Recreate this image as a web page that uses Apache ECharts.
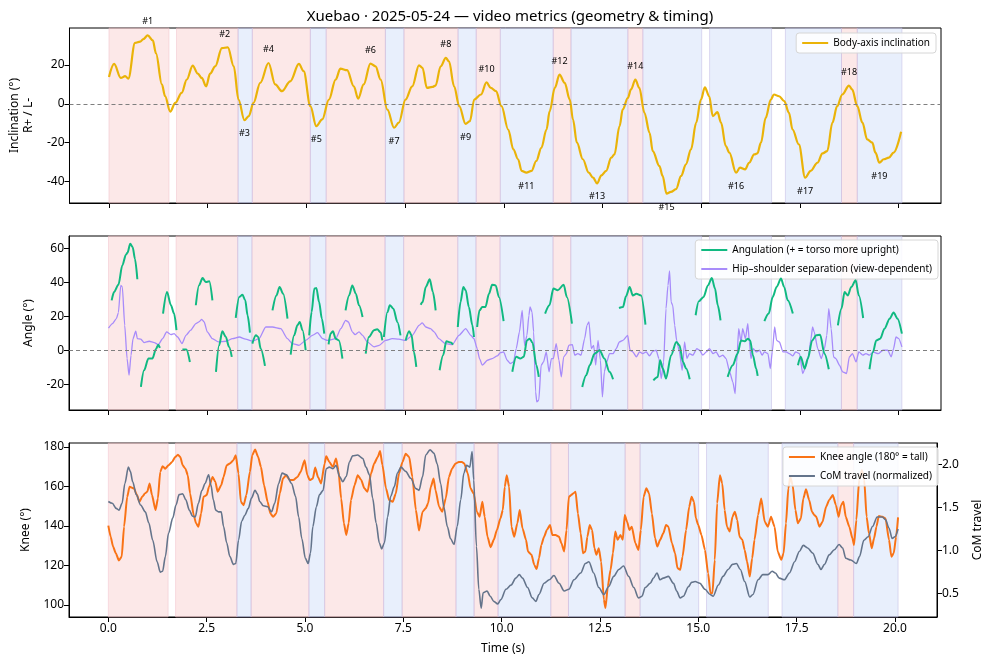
<!DOCTYPE html>
<html>
<head>
<meta charset="utf-8">
<script src="https://cdn.jsdelivr.net/npm/echarts@6/dist/echarts.min.js"></script>
<style>
  html, body { margin: 0; padding: 0; background: #fff; }
  #chart { width: 993px; height: 664px; }
</style>
</head>
<body>
<div id="chart"></div>
<script>
// ---- data ----
const xTicks = [0, 2.5, 5, 7.5, 10, 12.5, 15, 17.5, 20];
const inclTicks = [-40, -20, 0, 20];
const angleTicks = [-20, 0, 20, 40, 60];
const kneeTicks = [100, 120, 140, 160, 180];
const comTicks = [0.5, 1.0, 1.5, 2.0];

// turn phases (s)
const pinkSpans = [[0, 1.52], [1.71, 3.27], [3.63, 5.10], [5.50, 7.00], [7.47, 8.84], [9.30, 9.91], [11.25, 11.70], [13.14, 13.52], [18.55, 18.95]];
const blueSpans = [[3.27, 3.63], [5.10, 5.50], [7.00, 7.47], [8.84, 9.30], [9.91, 11.25], [11.70, 13.14], [13.52, 15.01], [15.21, 16.78], [17.13, 18.55], [18.95, 20.08]];

// body-axis inclination [t, deg]
const incl = [
  [0, 13.8], [0.13, 20.5], [0.30, 13.3], [0.41, 14.2], [0.49, 13], [0.66, 31.3], [0.79, 32], [0.87, 33.3], [0.98, 35.2],
  [1.11, 32.6], [1.19, 26], [1.34, 10], [1.42, 4], [1.55, -4], [1.68, 0.5], [1.84, 5.6], [1.97, 12.5], [2.12, 19.7],
  [2.25, 15.5], [2.35, 13.3], [2.46, 9], [2.56, 15.5], [2.69, 19.3], [2.86, 28.7], [3.01, 29], [3.16, 19.3], [3.28, 2.2],
  [3.43, -8.4], [3.54, -6.3], [3.66, 0.5], [3.83, 10.8], [4.04, 21], [4.21, 10], [4.38, 6.5], [4.59, 11.6], [4.81, 20.5],
  [4.93, 16.8], [5.10, -1.2], [5.25, -11.5], [5.40, -8], [5.57, 2.2], [5.74, 12.5], [5.86, 18.1], [6.03, 17.3], [6.20, 9],
  [6.31, 2.7], [6.45, 10], [6.62, 20.7], [6.75, 19.3], [6.88, 12.5], [7.05, -3], [7.22, -12.3], [7.34, -9.7], [7.51, 2.2],
  [7.68, 9], [7.85, 19.8], [7.94, 18.5], [8.05, 8.2], [8.19, 8.7], [8.27, 9.4], [8.40, 19.3], [8.53, 23.6], [8.61, 21.9],
  [8.74, 9], [8.87, -1.2], [9.03, -10.3], [9.14, -8.9], [9.25, 2.2], [9.42, 4.8], [9.56, 11], [9.67, 8.2], [9.80, 6.5],
  [9.94, -1.2], [10.11, -13.2], [10.24, -23.4], [10.36, -28.5], [10.45, -34.5], [10.57, -35.4], [10.70, -34.5],
  [10.82, -29.4], [10.95, -22.6], [11.08, -13.2], [11.16, -3.8], [11.29, 8.2], [11.41, 15], [11.54, 10.8], [11.67, 2.2],
  [11.75, -8], [11.85, -20], [12.0, -28.5], [12.15, -35.4], [12.26, -38], [12.36, -40.9], [12.47, -36.8], [12.59, -34.5],
  [12.72, -27.7], [12.80, -26], [12.93, -11.5], [13.01, -2.9], [13.14, 3.1], [13.22, 7.4], [13.33, 12.5], [13.43, 8.2],
  [13.56, -4.6], [13.69, -14.9], [13.77, -24.3], [13.94, -32], [14.02, -37.1], [14.12, -46.2], [14.23, -45.3],
  [14.36, -43.9], [14.49, -37.1], [14.61, -31.1], [14.74, -23.4], [14.87, -9.7], [14.99, 2.2], [15.09, 8.5], [15.20, 3.9],
  [15.29, -6.3], [15.41, -4.3], [15.50, -9.7], [15.62, -21.7], [15.71, -25.1], [15.88, -35.4], [15.98, -32.8],
  [16.11, -33.7], [16.21, -30.3], [16.34, -26], [16.42, -25.5], [16.51, -20], [16.63, -7.2], [16.76, 2.2], [16.84, 4.8],
  [16.97, 3.9], [17.10, 1.4], [17.22, -4.6], [17.31, -13.2], [17.47, -20.9], [17.63, -38], [17.77, -34.5], [17.94, -30.3],
  [18.07, -25.5], [18.19, -24.3], [18.32, -9.7], [18.44, -1.2], [18.57, 4.8], [18.74, 9.4], [18.82, 7.4], [18.95, -1.2],
  [19.08, -9.7], [19.20, -18.3], [19.33, -20], [19.41, -25.1], [19.51, -30.3], [19.62, -28.5], [19.75, -27.7],
  [19.87, -25.1], [20.06, -14.4]
];

// turn apex markers
const peakNames = ['#1', '#2', '#3', '#4', '#5', '#6', '#7', '#8', '#9', '#10', '#11', '#12', '#13', '#14', '#15', '#16', '#17', '#18', '#19'];
const peakT = [0.98, 2.93, 3.43, 4.04, 5.25, 6.62, 7.22, 8.53, 9.03, 9.56, 10.57, 11.41, 12.36, 13.33, 14.12, 15.88, 17.63, 18.74, 19.51];
const peakV = [35.2, 29, -8.4, 21, -11.5, 20.7, -12.3, 23.6, -10.3, 11, -35.4, 15, -40.9, 12.5, -46.2, -35.4, -38, 9.4, -30.3];

// angulation, shown only where tracked (segments)
const angSegs = [
  [[0.08, 29.6], [0.14, 34.5], [0.25, 38.8], [0.35, 50.2], [0.44, 56.5], [0.48, 57.6], [0.55, 63], [0.61, 61], [0.67, 54], [0.73, 42]],
  [[0.82, -21.4], [0.90, -11.6], [1.01, -4.7], [1.11, -4.7], [1.20, 0.8], [1.26, 3.5], [1.30, 1.6]],
  [[1.38, 21.8], [1.48, 34.5], [1.58, 26.7], [1.66, 21.8], [1.72, 12]],
  [[1.87, 0.6], [1.97, 0.6], [2.06, -6.7]],
  [[2.21, 26.7], [2.29, 38.4], [2.38, 42.7], [2.46, 40.4], [2.55, 40.8], [2.63, 29.6]],
  [[2.72, -12.5], [2.80, 3.1], [2.88, 11.4], [2.97, 8], [3.05, 2.2], [3.12, -3.7]],
  [[3.22, 19.2], [3.31, 31.6], [3.39, 32.9], [3.46, 29.6], [3.52, 20.8], [3.58, 10.6]],
  [[3.64, 4.1], [3.73, 9], [3.79, 8], [3.85, 1.2], [3.96, -9]],
  [[4.15, 23.7], [4.25, 32.5], [4.33, 37.5], [4.42, 33.5], [4.53, 18.8]],
  [[4.61, -2.4], [4.70, 9], [4.78, 14.9], [4.84, 16.9], [4.91, 12], [4.99, 0.2]],
  [[5.08, 9], [5.14, 22.7], [5.21, 36.5], [5.26, 36.9], [5.33, 28.6], [5.40, 18.8], [5.46, 10]],
  [[5.57, 3.7], [5.62, 10], [5.68, 11.4], [5.75, 7], [5.83, 6], [5.92, -4.7]],
  [[6.00, 23.7], [6.09, 32.5], [6.17, 38.4], [6.26, 33.5], [6.34, 26.7], [6.43, 19.8]],
  [[6.51, -1.8], [6.59, 8], [6.72, 12], [6.80, 12.5], [6.89, 10.6], [6.93, 6]],
  [[6.97, 8], [7.06, 22.7], [7.12, 26.7], [7.21, 24.7], [7.31, 16.9], [7.39, 9]],
  [[7.52, 6], [7.61, 11.4], [7.67, 9], [7.73, -0.8], [7.79, -9.6]],
  [[7.90, 27], [7.95, 28.6], [8.03, 37.5], [8.13, 42], [8.21, 34.5], [8.28, 23.7]],
  [[8.38, -11.6], [8.47, -2.7], [8.55, 5.5], [8.66, 4.7], [8.72, 3.5]],
  [[8.84, 13.9], [8.91, 28.6], [8.98, 37.5], [9.04, 35.5], [9.12, 25.7], [9.21, 14.9], [9.25, 8]],
  [[9.33, 13.9], [9.39, 23.7], [9.46, 25.7], [9.54, 25.7], [9.63, 33.5], [9.71, 38.8], [9.80, 38.4], [9.88, 31.6], [10.0, 17.3]],
  [[10.22, -12.5], [10.32, -3.7], [10.42, -4.7], [10.51, -3.7], [10.59, 6], [10.66, 7], [10.73, 4.7], [10.83, -8.6], [10.89, -15.5]],
  [[11.05, 21.8], [11.16, 26.7], [11.26, 36.5], [11.37, 35.5], [11.52, 38.8], [11.60, 31.6], [11.73, 15.9]],
  [[11.99, -21.4], [12.09, -14.5], [12.18, -8.6], [12.30, -1.8], [12.43, 0.2], [12.55, -4.7], [12.68, -12.5], [12.77, -16.9]],
  [[12.92, 25.1], [13.02, 25.7], [13.10, 32.2], [13.19, 37.5], [13.27, 32.5], [13.36, 33.5], [13.48, 32.5], [13.59, 15.3]],
  [[13.79, -17.5], [13.90, -15.5], [13.96, -5.7], [14.03, -10.6], [14.11, -16.5], [14.24, -2.7], [14.37, 5.1], [14.45, 3.1], [14.54, -6.7], [14.62, -10.6], [14.71, -16.9]],
  [[14.86, 20.8], [14.94, 29], [15.06, 31.6], [15.17, 38.4], [15.27, 42.7], [15.35, 36.5], [15.42, 26.7], [15.49, 17.8]],
  [[15.67, -15.5], [15.80, -8.6], [15.92, -1.8], [16.01, 6], [16.10, 5.5], [16.18, 7], [16.24, 6], [16.31, -2.7], [16.39, -10.6], [16.43, -14.9]],
  [[16.60, 17.3], [16.71, 21.8], [16.81, 31.6], [16.91, 37.5], [17.02, 42.4], [17.10, 37.5], [17.19, 29.6], [17.32, 21.8]],
  [[17.45, -8.6], [17.52, -3.7], [17.62, -10.6], [17.70, -4.7], [17.81, 6], [17.91, 9], [18.01, 9.4], [18.12, -1.8], [18.23, -11]],
  [[18.46, 14.9], [18.55, 24.7], [18.63, 34.5], [18.71, 32.5], [18.80, 37.5], [18.91, 41.4], [18.99, 32.5], [19.10, 19.2]],
  [[19.26, -11], [19.35, -0.8], [19.43, 6], [19.53, 7], [19.64, 12.9], [19.77, 18.8], [19.87, 22.4], [19.97, 18.8], [20.08, 10]]
];

// hip-shoulder separation [t, deg]
const hipSep = [
  [0.0, 13.3], [0.1, 15.9], [0.2, 18.8], [0.25, 22.4], [0.31, 38.4], [0.35, 37.5], [0.41, 14.9], [0.47, -4.7], [0.52, -14.5],
  [0.57, -2.7], [0.62, 7], [0.69, 11.4], [0.73, 7], [0.82, 6.7], [0.90, 4.7], [1.03, 5.5], [1.16, 4.7], [1.26, 3.5], [1.37, 7],
  [1.47, 11], [1.58, 9.4], [1.66, 10], [1.75, 8], [1.86, 4.1], [1.96, 9], [2.08, 12], [2.21, 15.9], [2.29, 16.9], [2.36, 18.4],
  [2.42, 16.9], [2.50, 11], [2.63, 7], [2.78, 5.1], [2.97, 5.5], [3.14, 7], [3.31, 8], [3.47, 6.7], [3.64, 5.5], [3.81, 7],
  [3.98, 13.9], [4.15, 13.9], [4.36, 12.9], [4.53, 7], [4.65, 4.1], [4.82, 3.1], [4.99, 6], [5.16, 9], [5.29, 10.6], [5.42, 7],
  [5.54, 6], [5.75, 7], [5.88, 12.9], [6.0, 17.8], [6.07, 16.9], [6.17, 11], [6.24, 9.4], [6.34, 11], [6.43, 9], [6.55, 5.1],
  [6.72, 2.2], [6.85, 3.1], [7.01, 6], [7.18, 7], [7.35, 6.7], [7.52, 6], [7.69, 9], [7.86, 14.9], [7.94, 16.3], [8.03, 13.9],
  [8.15, 12.9], [8.24, 11], [8.36, 7], [8.53, 4.1], [8.70, 3.5], [8.87, 9], [9.04, 12.9], [9.17, 9], [9.25, 7], [9.33, 1.2],
  [9.39, -4.7], [9.46, -8.6], [9.59, -5.7], [9.71, -4.7], [9.84, -3.1], [9.92, -1.2], [10.0, -0.8], [10.09, -5.7],
  [10.17, -7.6], [10.25, -6.7], [10.32, 1.2], [10.40, 11], [10.47, 23.7], [10.53, 3.1], [10.59, 9], [10.64, 20.8],
  [10.67, 25.7], [10.72, 22.7], [10.76, 11], [10.81, -24.3], [10.84, -30.2], [10.89, -29.2], [10.95, -8.6], [11.01, -6.7],
  [11.08, -0.8], [11.15, -12.5], [11.21, -4.7], [11.26, -4.7], [11.33, 4.1], [11.40, -5.7], [11.46, -15.5], [11.52, -3.7],
  [11.59, -1.8], [11.65, 3.1], [11.74, 3.5], [11.80, -2.7], [11.88, -1.8], [11.96, -2.7], [12.05, 7], [12.11, 14.9],
  [12.16, 16.9], [12.22, 1.2], [12.28, 3.1], [12.33, -8.6], [12.39, 6], [12.45, -5.7], [12.50, -27.3], [12.55, -12.5],
  [12.61, -6.7], [12.68, -1.8], [12.77, -1.8], [12.85, 1.2], [12.93, 5.1], [13.02, 6], [13.14, 9], [13.20, 0.2], [13.27, -0.8],
  [13.36, -3.7], [13.44, -0.8], [13.52, -1.8], [13.61, -0.8], [13.69, -3.1], [13.78, -0.4], [13.86, 0.2], [13.93, -4.7],
  [13.99, -16.5], [14.05, -6.7], [14.11, 24.7], [14.16, 38.4], [14.20, 46.9], [14.24, 28.6], [14.28, 26.7], [14.33, 14.9],
  [14.38, 6], [14.45, -0.8], [14.52, -11.6], [14.58, 5.1], [14.64, -4.7], [14.70, -1.8], [14.79, -2.7], [14.89, 1.2],
  [14.96, 0.2], [15.04, -2.7], [15.13, -0.8], [15.21, 1.2], [15.30, -1.8], [15.38, -0.8], [15.46, -3.7], [15.55, -2.7],
  [15.63, -4.7], [15.72, -12.5], [15.80, -18.4], [15.86, -25.3], [15.90, -6.7], [15.95, 12.9], [16.01, 5.1], [16.05, 12.9],
  [16.12, 7], [16.18, 15.9], [16.22, 5.1], [16.26, -4.7], [16.32, 1.2], [16.39, -0.8], [16.48, 0.2], [16.54, -2.7],
  [16.60, -0.8], [16.69, -1.8], [16.75, -10.6], [16.80, -0.8], [16.86, 13.9], [16.91, 6], [16.98, 5.1], [17.07, -0.8],
  [17.15, -0.8], [17.23, -1.8], [17.32, -3.1], [17.39, -0.8], [17.49, -1.8], [17.57, -13.5], [17.66, -8.6], [17.72, -2.7],
  [17.78, 7], [17.82, 13.9], [17.86, 11], [17.95, 1.2], [18.04, -4.7], [18.12, 1.2], [18.18, 9], [18.23, 24.7], [18.29, 12.9],
  [18.35, -3.7], [18.41, -4.7], [18.50, -8.6], [18.58, -12.5], [18.68, -13.5], [18.75, -3.7], [18.83, -1.8], [18.92, -6.7],
  [18.99, -0.8], [19.09, -2.7], [19.17, -1.8], [19.26, -2.7], [19.35, -0.8], [19.48, -1.8], [19.60, 0.2], [19.72, 0.2],
  [19.81, -3.7], [19.87, 1.2], [19.93, 8], [20.0, 7], [20.08, 2.2]
];

// knee angle [t, deg]
const knee = [
  [0.0, 140.1], [0.06, 134.5], [0.12, 129.5], [0.19, 126.1], [0.27, 122.4], [0.34, 124.4], [0.40, 139.6], [0.48, 154.7],
  [0.54, 159.8], [0.65, 159], [0.73, 155.6], [0.79, 152.2], [0.86, 154.7], [0.93, 156.4], [0.99, 157.3], [1.05, 161.5],
  [1.11, 155.6], [1.20, 148], [1.26, 153.9], [1.32, 167.4], [1.38, 170.2], [1.45, 169], [1.53, 170.7], [1.62, 172.4],
  [1.70, 174.9], [1.77, 176.1], [1.83, 174.9], [1.89, 170.7], [1.96, 169], [2.02, 165.7], [2.08, 156.4], [2.17, 145.5],
  [2.23, 141.3], [2.29, 139.6], [2.36, 146.3], [2.42, 154.7], [2.50, 155.6], [2.56, 159.8], [2.65, 164.8], [2.72, 162.3],
  [2.78, 157.3], [2.87, 160.6], [2.93, 164.8], [3.01, 170.7], [3.09, 171.6], [3.18, 173.3], [3.24, 175.8], [3.31, 166.5],
  [3.37, 152.2], [3.44, 150.5], [3.51, 155.6], [3.60, 167.4], [3.66, 175.8], [3.73, 178.7], [3.81, 174.9], [3.88, 169.9],
  [3.96, 160.6], [4.05, 152.2], [4.12, 146.3], [4.19, 144.6], [4.27, 146.3], [4.36, 156.4], [4.44, 164], [4.52, 165.7],
  [4.61, 163.2], [4.70, 163.2], [4.81, 164.8], [4.89, 167.4], [4.99, 173.3], [5.06, 165.7], [5.12, 163.2], [5.20, 164],
  [5.26, 169.6], [5.33, 164.8], [5.41, 161.5], [5.50, 171.6], [5.54, 175.3], [5.62, 172.4], [5.71, 169.9], [5.79, 174.1],
  [5.85, 168.2], [5.92, 153.9], [5.99, 141.3], [6.05, 135.4], [6.11, 141.3], [6.17, 153.1], [6.26, 160.6], [6.34, 165.7],
  [6.43, 163.2], [6.51, 159], [6.59, 157.3], [6.68, 166.5], [6.76, 171.6], [6.85, 174.9], [6.91, 178], [6.97, 170.7],
  [7.06, 159], [7.14, 153.1], [7.23, 152.2], [7.31, 156.4], [7.39, 166.5], [7.48, 172.4], [7.56, 176.6], [7.65, 174.9],
  [7.73, 164.8], [7.82, 148], [7.90, 137.6], [7.99, 147.2], [8.07, 148.9], [8.13, 151.4], [8.20, 159.8], [8.27, 164],
  [8.32, 158.1], [8.41, 149.7], [8.49, 147.2], [8.58, 153.9], [8.66, 164.8], [8.74, 169], [8.83, 171.6], [8.91, 172.4],
  [8.99, 172.4], [9.05, 171.6], [9.14, 166.5], [9.21, 159], [9.29, 156.4], [9.37, 147.2], [9.44, 144.6], [9.51, 152.2],
  [9.57, 144.6], [9.64, 134.5], [9.72, 129.2], [9.80, 132.9], [9.88, 137.9], [9.97, 143.8], [10.03, 148], [10.08, 159.8],
  [10.13, 165.7], [10.19, 159.8], [10.25, 139.6], [10.32, 134.5], [10.40, 141.3], [10.46, 148], [10.53, 138.8],
  [10.62, 132.9], [10.67, 127], [10.76, 125.3], [10.83, 120.2], [10.89, 118.1], [10.95, 123.6], [11.01, 130.3],
  [11.08, 134.5], [11.15, 137.9], [11.23, 140.4], [11.29, 135.4], [11.37, 135.4], [11.46, 134.5], [11.52, 131.2],
  [11.59, 127], [11.65, 137.9], [11.71, 154.7], [11.77, 155.6], [11.82, 156.4], [11.88, 157.3], [11.94, 146.3],
  [12.01, 136.2], [12.07, 126.1], [12.13, 127], [12.18, 134.5], [12.24, 140.4], [12.30, 137.9], [12.36, 128.7],
  [12.41, 125.3], [12.47, 128.7], [12.53, 121.9], [12.60, 102.6], [12.64, 98.3], [12.70, 109.3], [12.77, 117.7],
  [12.83, 126.1], [12.89, 137.1], [12.95, 132.9], [13.02, 135.4], [13.08, 132.9], [13.13, 145.5], [13.19, 142.1],
  [13.25, 137.9], [13.31, 139.6], [13.40, 131.2], [13.48, 127.8], [13.54, 137.9], [13.61, 154.7], [13.68, 159],
  [13.75, 156.4], [13.82, 146.3], [13.90, 133.7], [13.96, 129.5], [14.03, 132.9], [14.11, 136.2], [14.18, 140.4],
  [14.24, 139.6], [14.33, 131.2], [14.41, 126.1], [14.47, 118.6], [14.54, 117.7], [14.60, 124.4], [14.69, 137.9],
  [14.77, 149.7], [14.83, 154.7], [14.89, 152.2], [14.94, 143.8], [15.0, 140.4], [15.08, 135.4], [15.17, 127.8],
  [15.25, 116], [15.31, 105.9], [15.36, 105.9], [15.42, 122.8], [15.48, 151.4], [15.55, 165.7], [15.61, 161.5],
  [15.67, 148], [15.73, 139.6], [15.80, 137.1], [15.87, 144.6], [15.93, 147.2], [15.99, 143], [16.05, 134.5],
  [16.12, 132.9], [16.18, 127.8], [16.24, 121.9], [16.31, 114.3], [16.37, 123.6], [16.43, 132.9], [16.52, 145.5],
  [16.60, 153.9], [16.69, 142.1], [16.77, 139.6], [16.85, 144.6], [16.94, 139.6], [17.02, 127], [17.11, 122.8],
  [17.17, 126.1], [17.23, 141.3], [17.29, 159], [17.34, 164.8], [17.40, 160.6], [17.47, 148], [17.53, 141.3],
  [17.61, 143.8], [17.67, 153.9], [17.74, 158.5], [17.82, 153.1], [17.89, 147.2], [17.95, 145.5], [18.0, 144.6],
  [18.08, 139.6], [18.16, 142.1], [18.25, 149.7], [18.33, 153.1], [18.42, 155.6], [18.50, 150.5], [18.57, 144.6],
  [18.63, 150.5], [18.69, 152.2], [18.75, 144.6], [18.84, 139.6], [18.92, 133.7], [18.96, 130.3], [19.02, 143],
  [19.09, 163.2], [19.16, 168.2], [19.22, 163.2], [19.28, 144.6], [19.34, 136.2], [19.41, 128.7], [19.47, 133.7],
  [19.53, 139.6], [19.59, 145], [19.68, 144.6], [19.76, 143.8], [19.85, 132.9], [19.91, 124.4], [19.97, 126.1],
  [20.03, 134.5], [20.08, 144.3]
];

// CoM travel (normalized) [t, value]
const com = [
  [0.0, 1.57], [0.1, 1.55], [0.2, 1.49], [0.27, 1.47], [0.35, 1.55], [0.42, 1.78], [0.51, 1.97], [0.56, 1.92], [0.62, 1.80],
  [0.71, 1.65], [0.82, 1.53], [0.94, 1.45], [1.03, 1.32], [1.13, 1.12], [1.24, 0.87], [1.32, 0.75], [1.38, 0.76], [1.45, 0.93],
  [1.53, 1.20], [1.64, 1.38], [1.72, 1.53], [1.80, 1.65], [1.89, 1.66], [1.97, 1.59], [2.06, 1.47], [2.14, 1.40], [2.21, 1.39],
  [2.29, 1.55], [2.38, 1.70], [2.46, 1.78], [2.55, 1.88], [2.61, 1.76], [2.67, 1.59], [2.73, 1.47], [2.80, 1.45], [2.87, 1.45],
  [2.93, 1.28], [3.01, 1.09], [3.09, 0.93], [3.18, 0.84], [3.24, 0.85], [3.31, 1.12], [3.39, 1.34], [3.47, 1.41], [3.56, 1.49],
  [3.64, 1.61], [3.73, 1.70], [3.79, 1.66], [3.85, 1.57], [3.94, 1.52], [4.05, 1.51], [4.15, 1.45], [4.23, 1.55], [4.33, 1.78],
  [4.42, 1.90], [4.53, 1.88], [4.66, 1.78], [4.76, 1.63], [4.84, 1.39], [4.92, 1.14], [5.01, 0.91], [5.08, 0.85], [5.14, 0.97],
  [5.20, 1.28], [5.29, 1.51], [5.37, 1.65], [5.46, 1.70], [5.54, 1.95], [5.62, 1.97], [5.71, 1.95], [5.79, 1.99], [5.88, 1.86],
  [5.96, 1.80], [6.05, 1.86], [6.13, 2.03], [6.21, 2.10], [6.34, 2.11], [6.47, 2.07], [6.55, 1.97], [6.64, 1.88], [6.72, 1.61],
  [6.81, 1.32], [6.89, 1.09], [6.95, 1.02], [7.02, 1.09], [7.10, 1.39], [7.18, 1.63], [7.27, 1.74], [7.35, 1.90], [7.44, 1.97],
  [7.56, 1.92], [7.69, 1.84], [7.82, 1.72], [7.90, 1.70], [7.99, 1.86], [8.07, 2.11], [8.18, 2.17], [8.28, 2.13], [8.36, 2.01],
  [8.45, 1.78], [8.53, 1.51], [8.62, 1.28], [8.70, 1.14], [8.79, 1.07], [8.87, 1.28], [8.96, 1.59], [9.04, 1.90], [9.11, 1.99],
  [9.19, 1.97], [9.25, 2.15], [9.29, 1.82], [9.36, 1.05], [9.42, 0.55], [9.48, 0.33], [9.53, 0.51], [9.63, 0.53], [9.71, 0.47],
  [9.80, 0.41], [9.90, 0.38], [9.98, 0.43], [10.11, 0.55], [10.24, 0.60], [10.36, 0.68], [10.45, 0.72], [10.53, 0.68],
  [10.66, 0.57], [10.78, 0.45], [10.87, 0.41], [10.95, 0.49], [11.08, 0.62], [11.21, 0.66], [11.33, 0.71], [11.46, 0.62],
  [11.59, 0.53], [11.71, 0.55], [11.84, 0.66], [12.01, 0.74], [12.13, 0.85], [12.22, 0.87], [12.34, 0.74], [12.47, 0.57],
  [12.60, 0.49], [12.72, 0.58], [12.85, 0.70], [12.98, 0.78], [13.10, 0.82], [13.23, 0.70], [13.36, 0.57], [13.48, 0.45],
  [13.57, 0.47], [13.65, 0.57], [13.78, 0.62], [13.86, 0.68], [13.95, 0.74], [14.03, 0.66], [14.11, 0.68], [14.24, 0.70],
  [14.37, 0.62], [14.45, 0.53], [14.54, 0.45], [14.62, 0.47], [14.75, 0.58], [14.83, 0.63], [14.92, 0.64], [15.04, 0.62],
  [15.17, 0.55], [15.30, 0.49], [15.38, 0.47], [15.51, 0.60], [15.63, 0.70], [15.76, 0.78], [15.87, 0.84], [15.97, 0.85],
  [16.07, 0.78], [16.18, 0.64], [16.31, 0.46], [16.39, 0.49], [16.52, 0.66], [16.64, 0.72], [16.77, 0.72], [16.88, 0.76],
  [16.96, 0.74], [17.06, 0.68], [17.19, 0.66], [17.32, 0.74], [17.45, 0.87], [17.57, 0.99], [17.67, 1.06], [17.78, 1.03],
  [17.91, 0.97], [18.04, 0.84], [18.12, 0.78], [18.21, 0.84], [18.33, 0.95], [18.46, 1.01], [18.58, 1.07], [18.67, 1.03],
  [18.75, 0.91], [18.88, 0.89], [19.02, 0.85], [19.10, 0.93], [19.21, 1.12], [19.32, 1.16], [19.43, 1.28], [19.55, 1.39],
  [19.68, 1.39], [19.76, 1.36], [19.85, 1.26], [19.93, 1.14], [20.0, 1.16], [20.08, 1.25]
];

// ---- chart ----
const FONT = 'Noto Sans';
const chart = echarts.init(document.getElementById('chart'));

const spanAreas = pinkSpans.map(s => [
  { xAxis: s[0], itemStyle: { color: 'rgba(248,200,200,0.42)', borderColor: 'rgba(240,190,200,0.6)', borderWidth: 0.8 } },
  { xAxis: s[1] }
]).concat(blueSpans.map(s => [
  { xAxis: s[0], itemStyle: { color: 'rgba(200,218,248,0.42)', borderColor: 'rgba(190,180,225,0.6)', borderWidth: 0.8 } },
  { xAxis: s[1] }
]));
const areas = { silent: true, data: spanAreas };

const zeroLine = {
  silent: true, symbol: 'none', label: { show: false },
  lineStyle: { color: '#7f7f7f', type: [4, 3], width: 1 },
  data: [{ yAxis: 0 }]
};

const grids = [
  { left: 69, right: 52, top: 28, height: 175 },
  { left: 69, right: 52, top: 236, height: 174 },
  { left: 69, right: 52, top: 443, height: 174 }
].map(g => Object.assign(g, { show: true, borderColor: '#000', borderWidth: 1, backgroundColor: 'transparent' }));

function xAxisFor(gi, last) {
  return {
    type: 'value', gridIndex: gi, min: -1.0, max: 21.07,
    splitLine: { show: false },
    axisLine: { onZero: false, lineStyle: { color: '#000' } },
    axisTick: { customValues: xTicks, length: 5, lineStyle: { color: '#000' } },
    axisLabel: { show: last, customValues: xTicks, formatter: v => v.toFixed(1), color: '#000', fontFamily: FONT, fontSize: 12, margin: 6 },
    name: last ? 'Time (s)' : '', nameLocation: 'middle', nameGap: 26,
    nameTextStyle: { color: '#000', fontFamily: FONT, fontSize: 12 }
  };
}

function yAxisFor(gi, min, max, ticks, name, gap, pos, fmt) {
  return {
    type: 'value', gridIndex: gi, min: min, max: max, position: pos || 'left',
    splitLine: { show: false },
    axisLine: { show: true, onZero: false, lineStyle: { color: '#000' } },
    axisTick: { customValues: ticks, length: 5, lineStyle: { color: '#000' } },
    axisLabel: { customValues: ticks, formatter: fmt || (v => String(v)), color: '#000', fontFamily: FONT, fontSize: 12, margin: 5 },
    name: name, nameLocation: 'middle', nameGap: gap, nameRotate: 90,
    nameTextStyle: { color: '#000', fontFamily: FONT, fontSize: 12, lineHeight: 14 }
  };
}

const legendBase = {
  orient: 'vertical', backgroundColor: 'rgba(255,255,255,0.85)', borderColor: '#d6d6d6', borderWidth: 1,
  borderRadius: 3, padding: [5, 6], icon: 'rect', itemWidth: 26, itemHeight: 2, itemGap: 9,
  textStyle: { fontFamily: FONT, fontSize: 10, color: '#000' }
};

const angData = [];
angSegs.forEach((seg, i) => {
  if (i > 0) angData.push([seg[0][0] - 0.01, null]);
  seg.forEach(p => angData.push(p));
});

chart.setOption({
  animation: false,
  backgroundColor: '#fff',
  title: {
    text: 'Xuebao · 2025-05-24 — video metrics (geometry & timing)',
    left: 505, top: 4, textAlign: 'center',
    textStyle: { fontFamily: FONT, fontSize: 15, fontWeight: 'normal', color: '#000' }
  },
  legend: [
    Object.assign({}, legendBase, { data: ['Body-axis inclination'], right: 57, top: 33 }),
    Object.assign({}, legendBase, { data: ['Angulation (+ = torso more upright)', 'Hip–shoulder separation (view-dependent)'], right: 55, top: 240 }),
    Object.assign({}, legendBase, { data: ['Knee angle (180° = tall)', 'CoM travel (normalized)'], right: 55, top: 447 })
  ],
  grid: grids,
  xAxis: [xAxisFor(0, false), xAxisFor(1, false), xAxisFor(2, true)],
  yAxis: [
    yAxisFor(0, -51, 39, inclTicks, 'Inclination (°)\nR+ / L-', 27),
    yAxisFor(1, -35, 67.5, angleTicks, 'Angle (°)', 33),
    yAxisFor(2, 93.8, 182, kneeTicks, 'Knee (°)', 33),
    yAxisFor(2, 0.228, 2.25, comTicks, 'CoM travel', 34, 'right', v => v.toFixed(1))
  ],
  series: [
    {
      name: 'Body-axis inclination', type: 'line', xAxisIndex: 0, yAxisIndex: 0, data: incl,
      symbol: 'none', smooth: 0.35, smoothMonotone: 'x', z: 3,
      lineStyle: { color: '#eab308', width: 2.2 }, itemStyle: { color: '#eab308' },
      markArea: areas, markLine: zeroLine
    },
    {
      name: 'apex', type: 'scatter', xAxisIndex: 0, yAxisIndex: 0, symbolSize: 2, silent: true, z: 5,
      itemStyle: { color: 'rgba(0,0,0,0)' },
      data: peakT.map((t, i) => ({
        name: peakNames[i], value: [t, peakV[i]],
        label: { position: peakV[i] > 0 ? 'top' : 'bottom' }
      })),
      label: { show: true, formatter: '{b}', distance: 8, fontFamily: FONT, fontSize: 9, color: '#000', opacity: 1 }
    },
    {
      name: 'Angulation (+ = torso more upright)', type: 'line', xAxisIndex: 1, yAxisIndex: 1, data: angData,
      symbol: 'none', smooth: 0.3, smoothMonotone: 'x', connectNulls: false, z: 4,
      lineStyle: { color: '#10b981', width: 2 }, itemStyle: { color: '#10b981' },
      markArea: areas
    },
    {
      name: 'Hip–shoulder separation (view-dependent)', type: 'line', xAxisIndex: 1, yAxisIndex: 1, data: hipSep,
      symbol: 'none', smooth: 0.2, smoothMonotone: 'x', z: 3,
      lineStyle: { color: '#a78bfa', width: 1.3 }, itemStyle: { color: '#a78bfa' },
      markLine: zeroLine
    },
    {
      name: 'Knee angle (180° = tall)', type: 'line', xAxisIndex: 2, yAxisIndex: 2, data: knee,
      symbol: 'none', smooth: 0.2, smoothMonotone: 'x', z: 3,
      lineStyle: { color: '#f97316', width: 2 }, itemStyle: { color: '#f97316' },
      markArea: areas
    },
    {
      name: 'CoM travel (normalized)', type: 'line', xAxisIndex: 2, yAxisIndex: 3, data: com,
      symbol: 'none', smooth: 0.3, smoothMonotone: 'x', z: 4,
      lineStyle: { color: '#64748b', width: 1.6 }, itemStyle: { color: '#64748b' }
    }
  ]
});
</script>
</body>
</html>
